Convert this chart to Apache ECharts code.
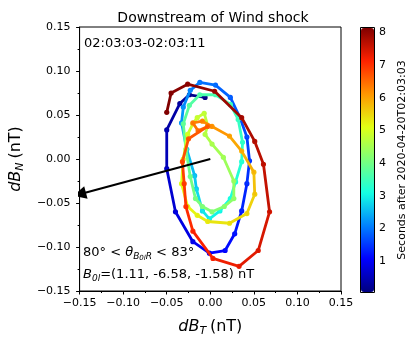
<!DOCTYPE html>
<html>
<head>
<meta charset="utf-8">
<script src="https://cdn.jsdelivr.net/npm/echarts@6/dist/echarts.min.js"></script>
<style>
  html, body { margin: 0; background: #fff; }
  #chart { width: 415px; height: 342px; }
</style>
</head>
<body>
<div id="chart"></div>
<script>
// hodogram samples (nT) and their time (s after 02:03:03)
const dBT = [-0.006, -0.024, -0.035, -0.050, -0.050, -0.040, -0.020, -0.001, 0.017, 0.028,
  0.036, 0.042, 0.045, 0.042, 0.034, 0.023, 0.006, -0.012, -0.023, -0.031,
  -0.033, -0.027, -0.018, -0.016, -0.009, -0.001, 0.011, 0.023, 0.029, 0.036,
  0.037, 0.032, 0.023, 0.006, -0.012, -0.024, -0.031, -0.028, -0.023, -0.017,
  -0.009, 0.002, 0.016, 0.027, 0.027, 0.015, 0.002, -0.006, -0.003, -0.007,
  -0.015, -0.020, -0.026, -0.031, -0.033, -0.026, -0.015, -0.003, 0.022, 0.042,
  0.051, 0.050, 0.036, 0.022, 0.002, -0.009, -0.020, -0.014, -0.003, -0.025,
  -0.032, -0.030, -0.028, -0.020, 0.003, 0.033, 0.055, 0.068, 0.061, 0.051,
  0.036, 0.005, -0.026, -0.045, -0.050]
const dBN = [0.070, 0.073, 0.063, 0.033, -0.011, -0.060, -0.094, -0.107, -0.104, -0.085,
  -0.059, -0.028, -0.002, 0.025, 0.047, 0.070, 0.084, 0.087, 0.078, 0.059,
  0.041, 0.011, -0.019, -0.034, -0.059, -0.068, -0.059, -0.045, -0.026, -0.003,
  0.019, 0.045, 0.062, 0.073, 0.073, 0.061, 0.040, 0.011, -0.020, -0.045,
  -0.054, -0.060, -0.054, -0.045, -0.025, 0.002, 0.017, 0.028, 0.038, 0.052,
  0.047, 0.040, 0.028, 0.000, -0.028, -0.054, -0.064, -0.071, -0.073, -0.062,
  -0.040, -0.015, 0.009, 0.026, 0.037, 0.043, 0.041, 0.032, 0.037, 0.023,
  -0.003, -0.028, -0.054, -0.082, -0.113, -0.122, -0.104, -0.060, -0.006, 0.020,
  0.047, 0.077, 0.085, 0.075, 0.053]
const seconds = [0.06, 0.15, 0.25, 0.35, 0.50, 0.70, 0.85, 0.95, 1.05, 1.15,
  1.25, 1.35, 1.45, 1.55, 1.65, 1.75, 1.85, 1.95, 2.05, 2.15,
  2.25, 2.40, 2.55, 2.65, 2.80, 2.90, 3.00, 3.08, 3.15, 3.22,
  3.30, 3.40, 3.48, 3.55, 3.62, 3.70, 3.78, 3.86, 3.94, 4.02,
  4.08, 4.14, 4.20, 4.26, 4.33, 4.42, 4.50, 4.58, 4.66, 4.72,
  4.80, 4.86, 4.92, 5.00, 5.06, 5.14, 5.20, 5.27, 5.35, 5.45,
  5.55, 5.70, 5.85, 5.95, 6.10, 6.20, 6.30, 6.40, 6.50, 6.65,
  6.75, 6.85, 6.95, 7.05, 7.15, 7.25, 7.35, 7.45, 7.60, 7.68,
  7.78, 7.90, 8.00, 8.07, 8.13]

// B0 direction projected on the T-N plane
const arrowFrom = [0, 0]
const arrowTo = [-0.15, -0.04]

const cbarMin = 0.06
const cbarMax = 8.13
const cbarTicks = [1, 2, 3, 4, 5, 6, 7, 8]

const jet = ['#000080', '#0000ff', '#0080ff', '#14ffe3', '#7bff7b', '#e2ff14', '#ff9600', '#ff2200', '#800000']
const font = 'DejaVu Sans'

const fmt = v => v.toFixed(2).replace('-', '\u2212')

const chart = echarts.init(document.getElementById('chart'))

const nameRich = {
  i: { fontFamily: font, fontStyle: 'italic', fontSize: 16, color: '#000' },
  s: { fontFamily: font, fontStyle: 'italic', fontSize: 11, color: '#000', padding: [9, 0, 0, 0] },
  n: { fontFamily: font, fontSize: 16, color: '#000' }
}

const option = {
  animation: false,
  textStyle: { fontFamily: font, color: '#000' },
  title: {
    text: 'Downstream of Wind shock',
    left: 208,
    textAlign: 'center',
    top: 6,
    textStyle: { fontFamily: font, fontSize: 14, fontWeight: 'normal', color: '#000' }
  },
  grid: [
    { left: 75, top: 27, width: 266, height: 266, show: true, borderColor: '#000', borderWidth: 1, backgroundColor: 'transparent' },
    { left: 361, top: 28, width: 13, height: 264, show: false }
  ],
  xAxis: [{
    gridIndex: 0,
    type: 'value',
    min: -0.15,
    max: 0.15,
    interval: 0.05,
    name: '{i|dB}{s|T} {n|(nT)}',
    nameLocation: 'middle',
    nameGap: 26,
    nameTextStyle: { rich: nameRich },
    axisLine: { onZero: false, lineStyle: { color: '#000', width: 1 } },
    axisTick: { length: 3.5, lineStyle: { color: '#000' } },
    minorTick: { show: true, splitNumber: 2, length: 2, lineStyle: { color: '#000' } },
    axisLabel: { fontSize: 11, color: '#000', margin: 7, formatter: fmt },
    splitLine: { show: false }
  }, {
    gridIndex: 1, type: 'value', show: false, min: 0, max: 1
  }],
  yAxis: [{
    gridIndex: 0,
    type: 'value',
    min: -0.15,
    max: 0.15,
    interval: 0.05,
    name: '{i|dB}{s|N} {n|(nT)}',
    nameLocation: 'middle',
    nameGap: 50,
    nameRotate: 90,
    nameTextStyle: { rich: nameRich },
    axisLine: { onZero: false, lineStyle: { color: '#000', width: 1 } },
    axisTick: { length: 3.5, lineStyle: { color: '#000' } },
    minorTick: { show: true, splitNumber: 2, length: 2, lineStyle: { color: '#000' } },
    axisLabel: { fontSize: 11, color: '#000', margin: 9, formatter: fmt },
    splitLine: { show: false }
  }, {
    gridIndex: 1,
    type: 'value',
    position: 'right',
    min: cbarMin,
    max: cbarMax,
    name: 'Seconds after 2020-04-20T02:03:03',
    nameLocation: 'middle',
    nameRotate: 90,
    nameGap: 23,
    nameTextStyle: { fontFamily: font, fontSize: 11, color: '#000' },
    axisLine: { show: false },
    axisTick: { show: true, length: 3.5, customValues: cbarTicks, lineStyle: { color: '#000' } },
    axisLabel: { fontSize: 11, color: '#000', margin: 5, customValues: cbarTicks },
    splitLine: { show: false }
  }],
  visualMap: {
    type: 'continuous',
    min: cbarMin,
    max: cbarMax,
    dimension: 0,
    seriesIndex: 0,
    calculable: false,
    hoverLink: false,
    left: 361,
    top: 28,
    itemWidth: 13,
    itemHeight: 264,
    padding: 0,
    text: null,
    showLabel: false,
    inRange: { color: jet }
  },
  graphic: [
    {
      type: 'rect', z: 100, silent: true,
      shape: { x: 360.5, y: 27.5, width: 14, height: 265 },
      style: { fill: null, stroke: '#000', lineWidth: 1 }
    },
    {
      type: 'text', left: 84, top: 37, z: 100,
      style: { text: '02:03:03-02:03:11', font: '13px "DejaVu Sans"', fill: '#000' }
    },
    {
      type: 'text', left: 83, top: 246, z: 100,
      style: {
        text: '{n|80° < }{i|θ}{s|B}{ss|0l}{s|R}{n| < 83°}',
        rich: {
          n: { fontFamily: font, fontSize: 13, fill: '#000' },
          i: { fontFamily: font, fontStyle: 'italic', fontSize: 13, fill: '#000' },
          s: { fontFamily: font, fontStyle: 'italic', fontSize: 9, fill: '#000', padding: [8, 0, 0, 0] },
          ss: { fontFamily: font, fontStyle: 'italic', fontSize: 7, fill: '#000', padding: [12, 0, 0, 0] }
        }
      }
    },
    {
      type: 'text', left: 83, top: 268, z: 100,
      style: {
        text: '{i|B}{s|0l}{n|=(1.11, -6.58, -1.58) nT}',
        rich: {
          n: { fontFamily: font, fontSize: 13, fill: '#000' },
          i: { fontFamily: font, fontStyle: 'italic', fontSize: 13, fill: '#000' },
          s: { fontFamily: font, fontStyle: 'italic', fontSize: 9, fill: '#000', padding: [8, 0, 0, 0] }
        }
      }
    }
  ],
  series: [{
    type: 'custom',
    xAxisIndex: 0,
    yAxisIndex: 0,
    data: seconds.map((t, i) => [t, dBT[i], dBN[i]]),
    encode: { x: 1, y: 2 },
    clip: false,
    renderItem: (params, api) => {
      const i = params.dataIndex
      const color = api.visual('color')
      const p = api.coord([dBT[i], dBN[i]])
      const q = i > 0 ? api.coord([dBT[i - 1], dBN[i - 1]]) : p
      return {
        type: 'group',
        children: [
          { type: 'line', shape: { x1: q[0], y1: q[1], x2: p[0], y2: p[1] }, style: { stroke: color, lineWidth: 2.8, lineCap: 'round' } },
          { type: 'circle', shape: { cx: p[0], cy: p[1], r: 2.6 }, style: { fill: color } }
        ]
      }
    }
  }, {
    type: 'lines',
    coordinateSystem: 'cartesian2d',
    xAxisIndex: 0,
    yAxisIndex: 0,
    symbol: ['none', 'triangle'],
    symbolSize: [0, 13],
    lineStyle: { color: '#000', width: 2.2, opacity: 1 },
    data: [{ coords: [arrowFrom, arrowTo] }],
    z: 10
  }]
}

chart.setOption(option)
</script>
</body>
</html>
